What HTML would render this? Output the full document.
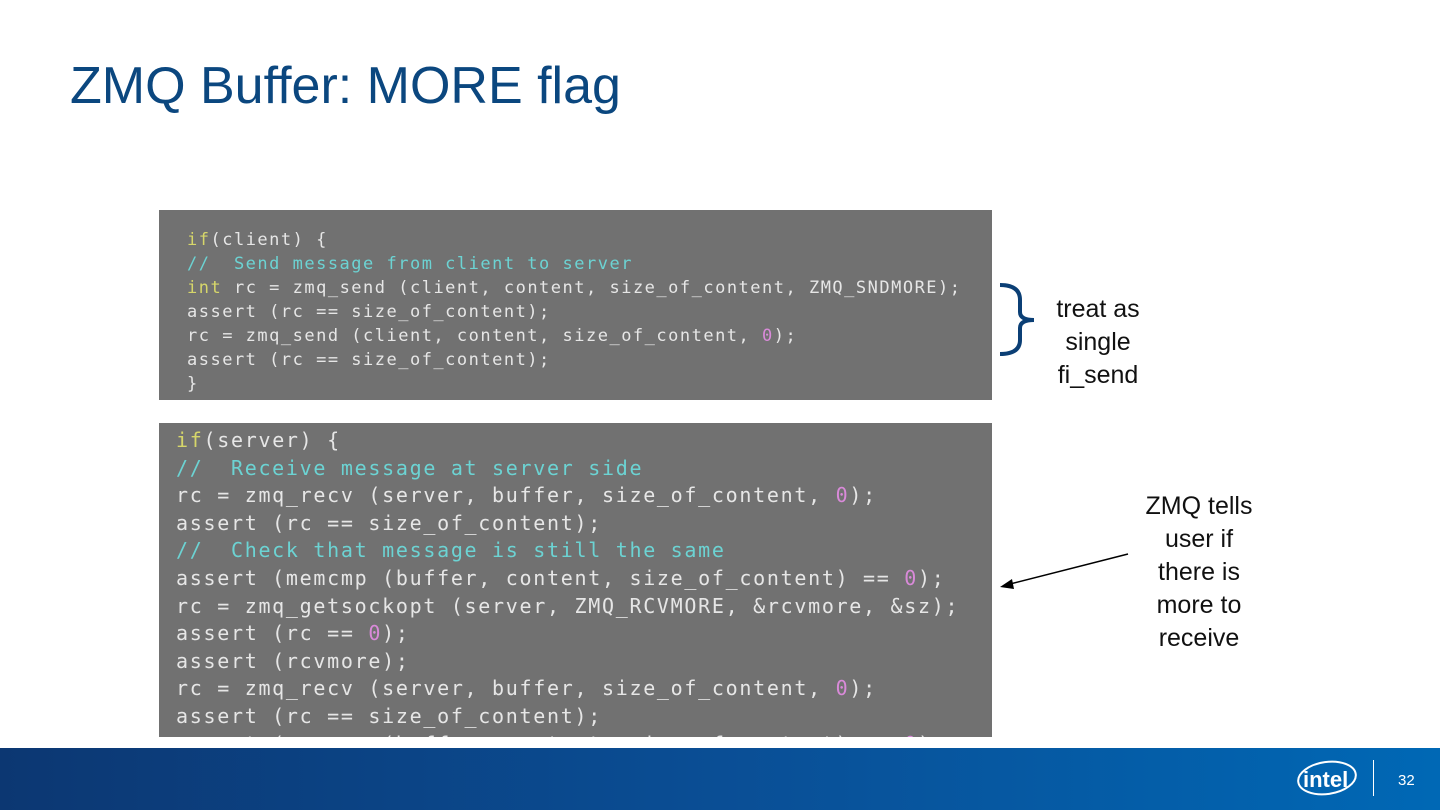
<!DOCTYPE html>
<html><head><meta charset="utf-8"><style>
body{margin:0;width:1440px;height:810px;position:relative;background:#fff;overflow:hidden;font-family:"Liberation Sans",sans-serif}
.title{position:absolute;left:70px;top:56px;font-size:52px;color:#0b477f;white-space:nowrap}
.code{position:absolute;background:#717171;color:#e6e6e6;font-family:"DejaVu Sans Mono",monospace;white-space:pre;overflow:hidden}
.k{color:#d6d66a}.c{color:#6cd3d3}.z{color:#d98ad9}
#c1{left:159px;top:210px;width:833px;height:190px;font-size:17px;letter-spacing:1.5px;line-height:24px;padding:0}
#c1 div{position:absolute;left:28px;top:18px}
#c2{left:159px;top:423px;width:833px;height:314px;font-size:20px;letter-spacing:1.7px;line-height:27.6px}
#c2 div{position:absolute;left:17px;top:4px}
.note{position:absolute;font-size:25px;color:#111;text-align:center;line-height:33px}
.foot{position:absolute;left:0;top:748px;width:1440px;height:62px;background:linear-gradient(90deg,#0c3772,#0a4e95 50%,#0068b5)}
</style></head><body>
<div class="title">ZMQ Buffer: MORE flag</div>
<div class="code" id="c1"><div><span class="k">if</span>(client) {
<span class="c">//  Send message from client to server</span>
<span class="k">int</span> rc = zmq_send (client, content, size_of_content, ZMQ_SNDMORE);
assert (rc == size_of_content);
rc = zmq_send (client, content, size_of_content, <span class="z">0</span>);
assert (rc == size_of_content);
}</div></div>
<div class="code" id="c2"><div><span class="k">if</span>(server) {
<span class="c">//  Receive message at server side</span>
rc = zmq_recv (server, buffer, size_of_content, <span class="z">0</span>);
assert (rc == size_of_content);
<span class="c">//  Check that message is still the same</span>
assert (memcmp (buffer, content, size_of_content) == <span class="z">0</span>);
rc = zmq_getsockopt (server, ZMQ_RCVMORE, &amp;rcvmore, &amp;sz);
assert (rc == <span class="z">0</span>);
assert (rcvmore);
rc = zmq_recv (server, buffer, size_of_content, <span class="z">0</span>);
assert (rc == size_of_content);
assert (memcmp (buffer, content, size_of_content) == <span class="z">0</span>);</div></div>
<svg style="position:absolute;left:0;top:0" width="1440" height="810">
<path d="M1000 285 Q1020 285 1020 300 L1020 312 Q1020 320 1034 320 Q1020 320 1020 328 L1020 340 Q1020 354 1000 354" fill="none" stroke="#0b3f75" stroke-width="4"/>
<line x1="1128" y1="554" x2="1010" y2="584" stroke="#000" stroke-width="1.5"/>
<polygon points="1000,587 1012,579 1014,589" fill="#000"/>
</svg>
<div class="note" style="left:1038px;top:293px;width:120px">treat as<br>single<br>fi_send</div>
<div class="note" style="left:1128px;top:490px;width:142px">ZMQ tells<br>user if<br>there is<br>more to<br>receive</div>
<div class="foot"></div>
<svg style="position:absolute;left:1296px;top:758px" width="70" height="44">
<ellipse cx="31" cy="20" rx="29" ry="16" fill="none" stroke="#fff" stroke-width="2" transform="rotate(-8 31 20)"/>
<text x="7" y="29" font-family="Liberation Sans" font-size="22" fill="#fff" font-weight="bold">intel</text>
</svg>
<div style="position:absolute;left:1373px;top:760px;width:1px;height:36px;background:#fff"></div>
<div style="position:absolute;left:1398px;top:772px;font-size:15px;color:#fff">32</div>
</body></html>
